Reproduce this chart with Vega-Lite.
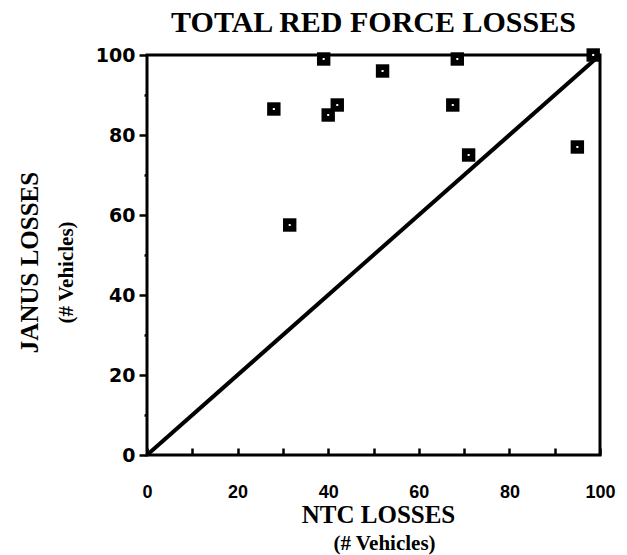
{
  "$schema": "https://vega.github.io/schema/vega-lite/v6.json",
  "width": 453,
  "height": 400,
  "autosize": {"type": "none"},
  "padding": {"left": 147, "top": 55, "right": 27, "bottom": 100},
  "background": "white",
  "config": {
    "view": {"stroke": "black", "strokeWidth": 3},
    "axis": {"domain": false, "grid": false, "tickColor": "black", "labelColor": "black", "titleColor": "black"}
  },
  "title": {
    "text": "TOTAL RED FORCE LOSSES",
    "font": "Liberation Serif",
    "fontWeight": "bold",
    "fontSize": 30,
    "color": "black",
    "anchor": "middle",
    "offset": 8
  },
  "datasets": {
    "pts": [
      {"ntc": 39, "janus": 99},
      {"ntc": 52, "janus": 96},
      {"ntc": 68.5, "janus": 99},
      {"ntc": 28, "janus": 86.5},
      {"ntc": 40, "janus": 85},
      {"ntc": 42, "janus": 87.5},
      {"ntc": 67.5, "janus": 87.5},
      {"ntc": 71, "janus": 75},
      {"ntc": 95, "janus": 77},
      {"ntc": 31.5, "janus": 57.5},
      {"ntc": 98.5, "janus": 100}
    ],
    "diag": [
      {"ntc": 0, "janus": 0},
      {"ntc": 100, "janus": 100}
    ]
  },
  "resolve": {"axis": {"x": "independent", "y": "independent"}},
  "layer": [
    {
      "data": {"name": "pts"},
      "mark": {"type": "point", "shape": "square", "filled": true, "color": "black", "size": 180, "opacity": 1},
      "encoding": {
        "x": {
          "field": "ntc", "type": "quantitative",
          "scale": {"domain": [0, 100], "nice": false},
          "axis": {
            "orient": "bottom",
            "values": [0, 10, 20, 30, 40, 50, 60, 70, 80, 90, 100],
            "labelExpr": "datum.value % 20 == 0 ? datum.label : ''",
            "tickSize": -7, "tickWidth": 2.5,
            "labelFont": "Liberation Sans", "labelFontWeight": "bold", "labelFontSize": 18,
            "labelPadding": 35, "labelFlush": false, "labelOverlap": false,
            "title": "NTC LOSSES",
            "titleFont": "Liberation Serif", "titleFontWeight": "bold", "titleFontSize": 25,
            "titleX": 231, "titleY": 67, "titleBaseline": "alphabetic"
          }
        },
        "y": {
          "field": "janus", "type": "quantitative",
          "scale": {"domain": [0, 100], "nice": false},
          "axis": {
            "orient": "left",
            "values": [0, 10, 20, 30, 40, 50, 60, 70, 80, 90, 100],
            "labelExpr": "datum.value % 20 == 0 ? datum.label : ''",
            "tickSize": {"condition": {"test": "datum.value % 20 == 0", "value": 8}, "value": 3},
            "tickWidth": 2.5,
            "labelFont": "DejaVu Sans", "labelFontWeight": "bold", "labelFontSize": 19,
            "labelPadding": 4, "labelFlush": false, "labelOverlap": false,
            "title": "JANUS LOSSES",
            "titleFont": "Liberation Serif", "titleFontWeight": "bold", "titleFontSize": 25,
            "titleX": -110, "titleY": 207, "titleAngle": -90, "titleBaseline": "alphabetic"
          }
        }
      }
    },
    {
      "data": {"name": "pts"},
      "mark": {"type": "point", "shape": "square", "filled": true, "color": "white", "size": 4, "opacity": 1},
      "encoding": {
        "x": {"field": "ntc", "type": "quantitative", "axis": null},
        "y": {"field": "janus", "type": "quantitative", "axis": null}
      }
    },
    {
      "data": {"name": "diag"},
      "mark": {"type": "line", "color": "black", "strokeWidth": 4},
      "encoding": {
        "x": {
          "field": "ntc", "type": "quantitative",
          "axis": {
            "orient": "bottom", "labels": false, "ticks": false, "domain": false,
            "title": "(# Vehicles)",
            "titleFont": "Liberation Serif", "titleFontWeight": "bold", "titleFontSize": 21,
            "titleX": 237, "titleY": 94, "titleBaseline": "alphabetic"
          }
        },
        "y": {
          "field": "janus", "type": "quantitative",
          "axis": {
            "orient": "left", "labels": false, "ticks": false, "domain": false,
            "title": "(# Vehicles)",
            "titleFont": "Liberation Serif", "titleFontWeight": "bold", "titleFontSize": 21,
            "titleX": -75, "titleY": 217, "titleAngle": -90, "titleBaseline": "alphabetic"
          }
        }
      }
    }
  ]
}
